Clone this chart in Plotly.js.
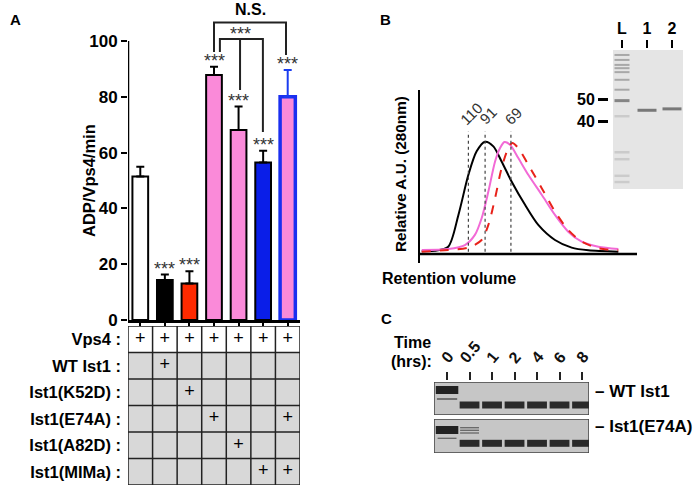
<!DOCTYPE html>
<html><head><meta charset="utf-8">
<script src="https://cdn.plot.ly/plotly-3.0.1.min.js"></script>
<style>html,body{margin:0;padding:0;background:#fff}#chart{width:693px;height:486px}</style>
</head><body><div id="chart"></div>
<script>
// ---------- Panel A data ----------
const rates = [51.4, 14.3, 13.1, 87.8, 68.1, 56.5, 80.0];
const rateErr = [3.5, 2.0, 4.4, 3.0, 8.4, 4.2, 9.6];
const starLabels = ['', '***', '***', '***', '***', '***', '***'];
const rowLabels = ['Vps4 :', 'WT Ist1 :', 'Ist1(K52D) :', 'Ist1(E74A) :', 'Ist1(A82D) :', 'Ist1(MIMa) :'];
const plusMatrix = [
  [1,1,1,1,1,1,1],
  [0,1,0,0,0,0,0],
  [0,0,1,0,0,0,0],
  [0,0,0,1,0,0,1],
  [0,0,0,0,1,0,0],
  [0,0,0,0,0,1,1]
];
const yTickVals = [0, 20, 40, 60, 80, 100];

// ---------- Panel B data ----------
const wtX = [0.8, 6.9, 13.0, 17.7, 22.3, 26.1, 30.0, 33.8, 37.6, 42.2, 48.4, 54.5, 62.2, 69.9, 77.6, 91.4];
const wtY = [0.027, 0.03, 0.065, 0.348, 0.705, 0.914, 1.0, 0.958, 0.824, 0.646, 0.438, 0.259, 0.125, 0.057, 0.033, 0.021];
const e74aX = [0.8, 13.0, 20.7, 25.3, 28.4, 31.5, 34.6, 36.9, 38.9, 41.5, 45.3, 49.9, 56.1, 62.2, 68.3, 74.5, 82.2, 91.4];
const e74aY = [0.036, 0.045, 0.080, 0.170, 0.318, 0.556, 0.824, 0.943, 0.997, 0.973, 0.854, 0.705, 0.527, 0.348, 0.199, 0.110, 0.065, 0.045];
const k52dX = [0.8, 13.0, 22.3, 28.4, 31.5, 34.6, 37.6, 40.7, 42.5, 45.3, 49.9, 56.1, 62.2, 68.3, 74.5, 82.2, 91.4];
const k52dY = [0.021, 0.036, 0.057, 0.125, 0.259, 0.497, 0.765, 0.943, 0.988, 0.943, 0.795, 0.586, 0.378, 0.214, 0.110, 0.051, 0.033];
const standardPos = [22.3, 30.0, 41.9];
const standardLabels = ['110', '91', '69'];

const gelBLanes = ['L', '1', '2'];
const markerLabels = ['50', '40'];
const markerPos = [50, 72];
const ladderStrong = [51];
const ladderMedium = [5, 10, 15, 18.3, 22.3, 30, 40];
const ladderFaint = [66.7, 103, 110, 126.7, 133];
const sampleBandLane = [1, 2];
const sampleBandPos = [60.7, 59.3];

// ---------- Panel C data ----------
const timeLabels = ['0', '0.5', '1', '2', '4', '6', '8'];
const wtFL = {lane: [0], pos: [8]};
const wtMinor = {lane: [0], pos: [17]};
const wtA = {lane: [1, 2, 3, 4, 5, 6], pos: [23, 23, 23, 23, 23, 23]};
const e74FL = {lane: [0], pos: [11]};
const e74Minor = {lane: [0, 1, 1, 1], pos: [19.3, 8.7, 11.3, 14]};
const e74A = {lane: [1, 2, 3, 4, 5, 6], pos: [24.3, 24.3, 24.3, 24.3, 24.3, 24.3]};

// ---------- helpers ----------
const W = 693, H = 486;
const PX = v => v / W;
const PY = v => 1 - v / H;
const FONT = 'Arial, "Liberation Sans", sans-serif';
const idx = rates.map((_, i) => i);

function bandSegs(lanes, pos, half) {
  const x = [], y = [];
  lanes.forEach((l, i) => { x.push(l - half, l + half, null); y.push(pos[i], pos[i], null); });
  return {x, y};
}

const traces = [];

// Bars (first six)
const barColors = ['#ffffff', '#000000', '#ff2a00', '#fa8ad9', '#fa8ad9', '#0a1ee8'];
traces.push({
  type: 'bar', x: idx.slice(0, 6), y: rates.slice(0, 6), width: 0.64,
  marker: {color: barColors, line: {color: '#000', width: 2}},
  error_y: {type: 'data', symmetric: false, array: rateErr.slice(0, 6), arrayminus: [0,0,0,0,0,0], color: '#000', thickness: 2, width: 4},
  xaxis: 'x', yaxis: 'y', hoverinfo: 'skip'
});
traces.push({
  type: 'bar', x: [6], y: [rates[6]], width: 0.62,
  marker: {color: '#fa8ad9', line: {color: '#1a2ff0', width: 3.5}},
  error_y: {type: 'data', symmetric: false, array: [rateErr[6]], arrayminus: [0], color: '#1a3cf0', thickness: 2, width: 4},
  xaxis: 'x', yaxis: 'y', hoverinfo: 'skip'
});

// Table backgrounds (heatmap)
const zTable = rowLabels.map((_, r) => idx.map(() => r === 0 ? 0 : 1));
traces.push({
  type: 'heatmap', x: idx, y: rowLabels.map((_, r) => r + 0.5), z: zTable,
  zmin: 0, zmax: 1, colorscale: [[0, '#ffffff'], [1, '#d8d8d8']], showscale: false,
  xaxis: 'x', yaxis: 'y2', hoverinfo: 'skip'
});
const plusX = [], plusY = [];
plusMatrix.forEach((row, r) => row.forEach((v, c) => { if (v) { plusX.push(c); plusY.push(r + 0.5); } }));
traces.push({
  type: 'scatter', mode: 'text', x: plusX, y: plusY, text: plusX.map(() => '+'),
  textfont: {family: FONT, size: 18, color: '#000'}, textposition: 'middle center',
  xaxis: 'x', yaxis: 'y2', hoverinfo: 'skip'
});

// Chromatogram
traces.push({type: 'scatter', mode: 'lines', x: wtX, y: wtY, line: {color: '#000', width: 2, shape: 'spline', smoothing: 0.8}, xaxis: 'x2', yaxis: 'y3', hoverinfo: 'skip'});
traces.push({type: 'scatter', mode: 'lines', x: e74aX, y: e74aY, line: {color: '#f26ad6', width: 2, shape: 'spline', smoothing: 0.8}, xaxis: 'x2', yaxis: 'y3', hoverinfo: 'skip'});
traces.push({type: 'scatter', mode: 'lines', x: k52dX, y: k52dY, line: {color: '#e8221a', width: 2, dash: 'dash', shape: 'spline', smoothing: 0.8}, xaxis: 'x2', yaxis: 'y3', hoverinfo: 'skip'});
const dotX = [], dotY = [];
standardPos.forEach(p => { dotX.push(p, p, null); dotY.push(0.02, 1.09, null); });
traces.push({type: 'scatter', mode: 'lines', x: dotX, y: dotY, line: {color: '#444', width: 1.2, dash: 'dot'}, xaxis: 'x2', yaxis: 'y3', hoverinfo: 'skip'});

// Gel B bands
[[ladderStrong, '#858585', 3], [ladderMedium, '#a8a8a8', 2], [ladderFaint, '#cbcbcb', 2.5]].forEach(([pos, col, w]) => {
  const s = bandSegs(pos.map(() => 0), pos, 0.3);
  traces.push({type: 'scatter', mode: 'lines', x: s.x, y: s.y, line: {color: col, width: w}, xaxis: 'x3', yaxis: 'y4', hoverinfo: 'skip'});
});
{
  const s = bandSegs(sampleBandLane, sampleBandPos, 0.38);
  traces.push({type: 'scatter', mode: 'lines', x: s.x, y: s.y, line: {color: '#787878', width: 3}, xaxis: 'x3', yaxis: 'y4', hoverinfo: 'skip'});
}

// Gel C bands
function gelTrace(b, half, col, w, ya) {
  const s = bandSegs(b.lane, b.pos, half);
  return {type: 'scatter', mode: 'lines', x: s.x, y: s.y, line: {color: col, width: w}, xaxis: 'x4', yaxis: ya, hoverinfo: 'skip'};
}
traces.push(gelTrace(wtFL, 0.5, '#222', 8, 'y5'));
traces.push(gelTrace(wtMinor, 0.45, '#555', 1.5, 'y5'));
traces.push(gelTrace(wtA, 0.44, '#2a2a2a', 7, 'y5'));
traces.push(gelTrace(e74FL, 0.5, '#222', 8, 'y6'));
traces.push(gelTrace(e74Minor, 0.42, '#666', 1.3, 'y6'));
traces.push(gelTrace(e74A, 0.44, '#2a2a2a', 7, 'y6'));

// ---------- shapes ----------
const shapes = [];
// Panel A y-axis line
shapes.push({type: 'line', xref: 'x', yref: 'y', x0: -0.5, x1: -0.5, y0: 0, y1: 100, line: {color: '#000', width: 2.5}});
// Table grid
for (let c = 0; c <= 7; c++) shapes.push({type: 'line', xref: 'x', yref: 'y2', x0: c - 0.5, x1: c - 0.5, y0: 0, y1: 6, line: {color: '#222', width: 1.5}});
for (let r = 0; r <= 6; r++) shapes.push({type: 'line', xref: 'x', yref: 'y2', x0: -0.5, x1: 6.5, y0: r, y1: r, line: {color: '#222', width: 1.5}});
// Significance brackets
const nsLevel = 106.6, triLevel = 100.7;
shapes.push({type: 'path', xref: 'x', yref: 'y', path: `M 3,96.1 L 3,${nsLevel} L 5.93,${nsLevel} L 5.93,95`, line: {color: '#222', width: 2}});
shapes.push({type: 'path', xref: 'x', yref: 'y', path: `M 3.24,96.1 L 3.24,${triLevel} L 4.99,${triLevel} L 4.99,67.4`, line: {color: '#222', width: 2}});
shapes.push({type: 'line', xref: 'x', yref: 'y', x0: 4.06, x1: 4.06, y0: triLevel, y1: 82.4, line: {color: '#222', width: 2}});
// Panel B x-axis line
shapes.push({type: 'line', xref: 'x2', yref: 'y3', x0: 0, x1: 100, y0: 0, y1: 0, line: {color: '#000', width: 2.5}});
// Gel backgrounds
shapes.push({type: 'rect', xref: 'x3', yref: 'y4', x0: -0.36, x1: 2.44, y0: 0, y1: 140, fillcolor: '#e5e5e5', line: {width: 0}, layer: 'below'});
shapes.push({type: 'rect', xref: 'x4', yref: 'y5', x0: -0.58, x1: 6.31, y0: 0, y1: 33, fillcolor: '#c6c6c6', line: {color: '#444', width: 1.5}, layer: 'below'});
shapes.push({type: 'rect', xref: 'x4', yref: 'y6', x0: -0.58, x1: 6.31, y0: 0, y1: 34, fillcolor: '#c6c6c6', line: {color: '#444', width: 1.5}, layer: 'below'});

// ---------- annotations ----------
const ann = [];
const bold = (t, size, x, y, extra) => Object.assign({text: t, x: PX(x), y: PY(y), xref: 'paper', yref: 'paper', showarrow: false, font: {family: FONT, size: size, color: '#000', weight: 700}}, extra || {});
ann.push(bold('A', 15, 8, 9));
ann.push(bold('B', 15, 385, 9));
ann.push(bold('C', 15, 386, 318));
ann.push(bold('ADP/Vps4/min', 16.5, 78, 181, {textangle: -90}));
ann.push({text: 'N.S.', x: 4.47, y: nsLevel + 0.8, xref: 'x', yref: 'y', yanchor: 'bottom', showarrow: false, font: {family: FONT, size: 16, color: '#000', weight: 700}});
ann.push({text: '***', x: 4.06, y: triLevel, xref: 'x', yref: 'y', yanchor: 'bottom', yshift: -7, showarrow: false, font: {family: FONT, size: 18, color: '#333'}});
starLabels.forEach((s, i) => {
  if (!s) return;
  ann.push({text: s, x: i, y: rates[i] + rateErr[i], xref: 'x', yref: 'y', yanchor: 'bottom', yshift: -6, showarrow: false, font: {family: FONT, size: 18, color: '#333'}});
});
ann.push(bold('Relative A.U. (280nm)', 15.3, 400, 174, {textangle: -90}));
ann.push(bold('Retention volume', 16, 518, 278));
standardLabels.forEach((t, i) => {
  ann.push({text: t, x: standardPos[i], y: 1.09, xref: 'x2', yref: 'y3', xanchor: 'center', yanchor: 'bottom', yshift: 1, xshift: 3, textangle: -45, showarrow: false, font: {family: FONT, size: 15, color: '#333'}});
});
ann.push(bold('Time', 16, 412, 353));
ann.push(bold('(hrs):', 16, 411, 372));
timeLabels.forEach((t, i) => {
  ann.push({text: t, x: i, y: PY(369), xref: 'x4', yref: 'paper', xanchor: 'center', yanchor: 'bottom', textangle: -50, showarrow: false, font: {family: FONT, size: 16, color: '#111', weight: 700}});
});
const arrowAnn = (t, yv, ya, ax) => ({text: t, x: -0.62, y: yv, xref: 'x4', yref: ya, showarrow: true, ax: ax, ay: 0, arrowhead: 2, arrowsize: 1, arrowwidth: 2, arrowcolor: '#000', font: {family: FONT, size: 17, color: '#000', weight: 700}});
ann.push(arrowAnn('FL', wtFL.pos[0], 'y5', -34));
ann.push(arrowAnn('A', wtA.pos[0], 'y5', -30));
ann.push(arrowAnn('FL', e74FL.pos[0], 'y6', -34));
ann.push(arrowAnn('A', e74A.pos[0], 'y6', -30));
ann.push(bold('\u2013 WT Ist1', 17, 593, 403, {xanchor: 'left'}));
ann.push(bold('\u2013 Ist1(E74A)', 17, 593, 438, {xanchor: 'left'}));

// ---------- layout ----------
const hidden = {visible: false, showgrid: false, zeroline: false, fixedrange: true};
const layout = {
  width: W, height: H, margin: {l: 0, r: 0, t: 0, b: 0}, showlegend: false,
  paper_bgcolor: '#fff', plot_bgcolor: 'rgba(0,0,0,0)',
  font: {family: FONT, color: '#000'},
  barmode: 'overlay',
  xaxis: {domain: [PX(128), PX(300)], range: [-0.5, 6.5], anchor: 'y', showgrid: false, zeroline: false,
    showline: true, linecolor: '#000', linewidth: 2.5, ticks: 'outside', tickvals: idx, ticklen: 5, tickwidth: 2, tickcolor: '#000', showticklabels: false},
  yaxis: {domain: [PY(320), PY(18.7)], range: [0, 108], anchor: 'x', showgrid: false, zeroline: false, showline: false,
    ticks: 'outside', tickvals: yTickVals, ticklen: 6, tickwidth: 2, tickcolor: '#000',
    tickfont: {family: FONT, size: 17, color: '#000', weight: 700}},
  yaxis2: {domain: [PY(485), PY(326)], range: [6, 0], anchor: 'x', showgrid: false, zeroline: false, showline: false, ticks: '',
    tickvals: rowLabels.map((_, r) => r + 0.5), ticktext: rowLabels, ticklabelstandoff: 6,
    tickfont: {family: FONT, size: 16.5, color: '#000', weight: 700}},
  xaxis2: Object.assign({domain: [PX(420), PX(637)], range: [0, 100], anchor: 'y3'}, hidden),
  yaxis3: {domain: [PY(263), PY(90)], range: [-0.08, 1.46], anchor: 'x2', showgrid: false, zeroline: false, showline: true,
    linecolor: '#000', linewidth: 2.5, ticks: '', showticklabels: false},
  xaxis3: {domain: [PX(613), PX(683)], range: [-0.36, 2.44], anchor: 'free', position: PY(48), side: 'top', showgrid: false, zeroline: false,
    showline: false, ticks: 'outside', ticklen: 8, tickwidth: 2.5, tickcolor: '#000', tickvals: [0, 1, 2], ticktext: gelBLanes,
    tickfont: {family: FONT, size: 16, color: '#000', weight: 700}},
  yaxis4: {domain: [PY(189), PY(50)], range: [140, 0], anchor: 'free', position: PX(608), showgrid: false, zeroline: false,
    showline: false, ticks: 'outside', ticklen: 10, tickwidth: 2.5, tickcolor: '#000', tickvals: markerPos, ticktext: markerLabels,
    tickfont: {family: FONT, size: 16, color: '#000', weight: 700}},
  xaxis4: {domain: [PX(434), PX(589)], range: [-0.58, 6.31], anchor: 'free', position: PY(380), side: 'top', showgrid: false, zeroline: false,
    showline: false, ticks: 'outside', ticklen: 8, tickwidth: 2, tickcolor: '#222', tickvals: idx, showticklabels: false},
  yaxis5: Object.assign({domain: [PY(415), PY(382)], range: [33, 0], anchor: 'x4'}, hidden),
  yaxis6: Object.assign({domain: [PY(453), PY(419)], range: [34, 0], anchor: 'x4'}, hidden),
  shapes: shapes, annotations: ann
};
Plotly.newPlot('chart', traces, layout, {staticPlot: true, displayModeBar: false});
</script></body></html>
